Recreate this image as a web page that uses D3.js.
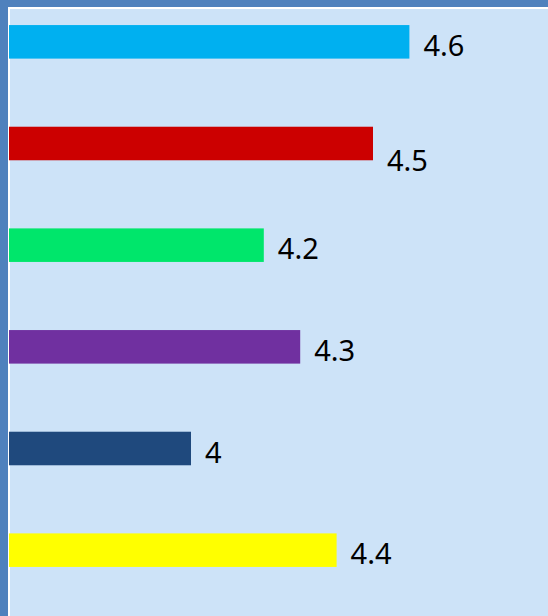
<!DOCTYPE html>
<html>
<head>
<meta charset="utf-8">
<script src="https://cdn.jsdelivr.net/npm/d3@7"></script>
<style>
  html, body { margin: 0; padding: 0; background: #ffffff; }
  svg { display: block; }
  text { font-family: "Noto Sans", "Open Sans", sans-serif; }
</style>
</head>
<body>
<svg id="chart" width="548" height="616"></svg>
<script>
// Ratings shown as horizontal bars, top to bottom
const categories = ["A", "B", "C", "D", "E", "F"];
const values = [4.6, 4.5, 4.2, 4.3, 4.0, 4.4];
const valueLabels = ["4.6", "4.5", "4.2", "4.3", "4", "4.4"];
const barColors = ["#00b0f0", "#cc0000", "#00e66b", "#7030a0", "#1f497d", "#ffff00"];

const W = 548, H = 616;
const svg = d3.select("#chart");

// Frame: blue edge, thin white rule, light blue plot area
svg.append("rect").attr("x", 0).attr("y", 0).attr("width", W).attr("height", H).attr("fill", "#4f81bd");
svg.append("rect").attr("x", 8).attr("y", 7).attr("width", W - 8).attr("height", H - 7).attr("fill", "#ffffff");
svg.append("rect").attr("x", 10).attr("y", 9).attr("width", W - 10).attr("height", H - 9).attr("fill", "#cde3f8");

// Value axis starts at 3.5 (not zero)
const x = d3.scaleLinear().domain([3.5, 5]).range([9, 555]);
const y = d3.scaleBand().domain(categories).range([-9, 601])
  .paddingInner(0.67).paddingOuter(0.335);

const rows = categories.map((c, i) => ({ cat: c, value: values[i], label: valueLabels[i], color: barColors[i] }));

svg.append("g").selectAll("rect").data(rows).join("rect")
  .attr("x", x(3.5))
  .attr("y", d => y(d.cat))
  .attr("width", d => x(d.value) - x(3.5))
  .attr("height", y.bandwidth())
  .attr("fill", d => d.color);

// Value labels; the second one is nudged down to keep clear of its neighbour
const nudge = i => (i === 1 ? 13 : 0);
svg.append("g").selectAll("text").data(rows).join("text")
  .attr("x", d => x(d.value) + 14)
  .attr("y", (d, i) => y(d.cat) + y.bandwidth() / 2 + 14 + nudge(i))
  .attr("font-size", 29)
  .attr("fill", "#000000")
  .text(d => d.label);
</script>
</body>
</html>
